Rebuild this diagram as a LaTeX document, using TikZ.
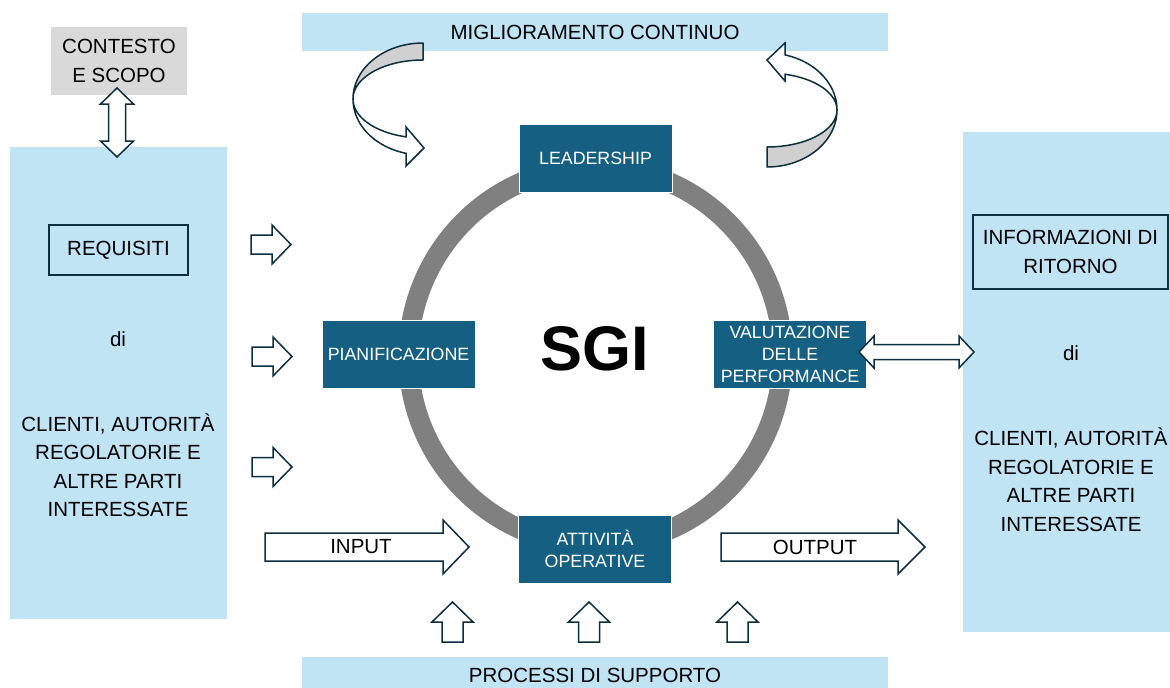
\documentclass[tikz,border=0pt]{standalone}
\usepackage{fontspec}
\setmainfont{Liberation Sans}
\definecolor{lightblue}{HTML}{C1E4F5}
\definecolor{boxblue}{HTML}{156082}
\definecolor{arrowline}{HTML}{0B2F41}
\definecolor{ctxgray}{HTML}{D9D9D9}
\definecolor{ringgray}{HTML}{808080}
\definecolor{ribbongray}{HTML}{D0D0D0}
\begin{document}
\begin{tikzpicture}[x=1pt,y=-1pt,
  lbl/.style={font=\fontsize{20.5}{28.5}\selectfont, align=center, inner sep=0pt},
  band/.style={fill=lightblue, draw=none, lbl},
  panel/.style={fill=lightblue, draw=none, inner sep=0pt},
  stage/.style={fill=boxblue, draw=white, line width=0.6pt, text=white,
    font=\fontsize{17.8}{22}\selectfont, align=center,
    minimum width=153pt, minimum height=68pt, inner sep=0pt},
  outlinebox/.style={draw=arrowline, line width=2.5pt, lbl},
  blockarrow/.style={fill=white, draw=arrowline, line width=1.5pt, line join=miter},
  ribbonback/.style={fill=ribbongray, draw=arrowline, line width=1.5pt, line join=round},
  ribbonfront/.style={fill=white, draw=arrowline, line width=1.5pt, line join=miter},
  % single block arrow: length, head length, shaft half width, head half width
  pics/rblock/.style n args={4}{code={
    \path[blockarrow] (0,-#3) -- ({#1-#2},-#3) -- ({#1-#2},-#4) -- (#1,0)
      -- ({#1-#2},#4) -- ({#1-#2},#3) -- (0,#3) -- cycle;}},
  % double block arrow: length, head length, shaft half width, head half width
  pics/dblock/.style n args={4}{code={
    \path[blockarrow] (0,0) -- (#2,-#4) -- (#2,-#3) -- ({#1-#2},-#3) -- ({#1-#2},-#4)
      -- (#1,0) -- ({#1-#2},#4) -- ({#1-#2},#3) -- (#2,#3) -- (#2,#4) -- cycle;}},
]
\useasboundingbox (0,0) rectangle (1170,688);

% side panels and bands
\node[panel, minimum width=217pt, minimum height=472pt] (left) at (118.5,383) {};
\node[panel, minimum width=210pt, minimum height=500pt] (right) at (1068,382) {};
\node[band, minimum width=586pt, minimum height=38pt] (kaizen) at (595,32) {MIGLIORAMENTO CONTINUO};
\node[band, minimum width=586pt, minimum height=36pt] (support) at (595,675) {PROCESSI DI SUPPORTO};
\node[fill=ctxgray, lbl, minimum width=136pt, minimum height=68pt] (ctx) at (119,61) {CONTESTO\\E SCOPO};

% left panel content
\node[outlinebox, minimum width=139pt, minimum height=50pt] (req) at (118.5,250) {REQUISITI};
\node[lbl] (ldi) at (118,339) {di};
\node[lbl] (lwho) at (118,465) {CLIENTI, AUTORITÀ\\REGOLATORIE E\\ALTRE PARTI\\INTERESSATE};

% right panel content
\node[outlinebox, minimum width=195pt, minimum height=74pt] (info) at (1070.5,252) {INFORMAZIONI DI\\RITORNO};
\node[lbl] (rdi) at (1071,353) {di};
\node[lbl] (rwho) at (1071,479.5) {CLIENTI, AUTORITÀ\\REGOLATORIE E\\ALTRE PARTI\\INTERESSATE};

% management system cycle
\draw[ringgray, line width=20pt] (595.5,356) ellipse [x radius=187pt, y radius=189pt];
\node[stage] (lead) at (595.5,158) {LEADERSHIP};
\node[stage] (plan) at (398.5,354) {PIANIFICAZIONE};
\node[stage] (eval) at (790,354) {VALUTAZIONE\\DELLE\\PERFORMANCE};
\node[stage] (oper) at (595,549) {ATTIVITÀ\\OPERATIVE};
\node[font=\fontsize{63}{63}\selectfont\bfseries, inner sep=0pt] (sgi) at (595,349) {SGI};

% block arrows
\pic at (117,157) [rotate=90] {dblock={69}{16}{8.5}{16.5}};
\pic at (859,352) {dblock={115}{15}{7.5}{16}};
\pic at (251,244.5) {rblock={40}{19}{9.5}{19.5}};
\pic at (252,356.5) {rblock={40}{19}{9.5}{19.5}};
\pic at (252,467) {rblock={40}{19}{9.5}{19.5}};
\pic at (265,547) {rblock={204}{26}{14}{27}};
\pic at (721,547) {rblock={204}{27}{14}{27}};
\pic at (452.5,642) [rotate=90] {rblock={40}{20}{10.5}{20.5}};
\pic at (589,642) [rotate=90] {rblock={40}{20}{10.5}{20.5}};
\pic at (737.5,642) [rotate=90] {rblock={40}{20}{10.5}{20.5}};
\node[lbl] (inlbl) at (361,547) {INPUT};
\node[lbl] (outlbl) at (815,547) {OUTPUT};

% curved ribbon arrow, left
\path[ribbonback]
  plot[domain=90:180, samples=40, variable=\t] ({423+70*cos(\t)},{99-56*sin(\t)})
  -- plot[domain=180:90, samples=40, variable=\t] ({423+70*cos(\t)},{99-39*sin(\t)})
  -- cycle;
\path[ribbonfront]
  plot[domain=180:256, samples=40, variable=\t] ({423+70*cos(\t)},{99-56*sin(\t)})
  -- (406,166) -- (424,148) -- (406,127)
  -- plot[domain=256:180, samples=40, variable=\t] ({423+70*cos(\t)},{99-39*sin(\t)})
  -- cycle;

% curved ribbon arrow, right
\path[ribbonback]
  plot[domain=270:360, samples=40, variable=\t] ({767+70*cos(\t)},{110-57*sin(\t)})
  -- plot[domain=360:270, samples=40, variable=\t] ({767+70*cos(\t)},{110-37*sin(\t)})
  -- cycle;
\path[ribbonfront]
  plot[domain=0:75, samples=40, variable=\t] ({767+70*cos(\t)},{110-57*sin(\t)})
  -- (785,43) -- (767,60) -- (785,81)
  -- plot[domain=75:0, samples=40, variable=\t] ({767+70*cos(\t)},{110-37*sin(\t)})
  -- cycle;
\end{tikzpicture}
\end{document}
